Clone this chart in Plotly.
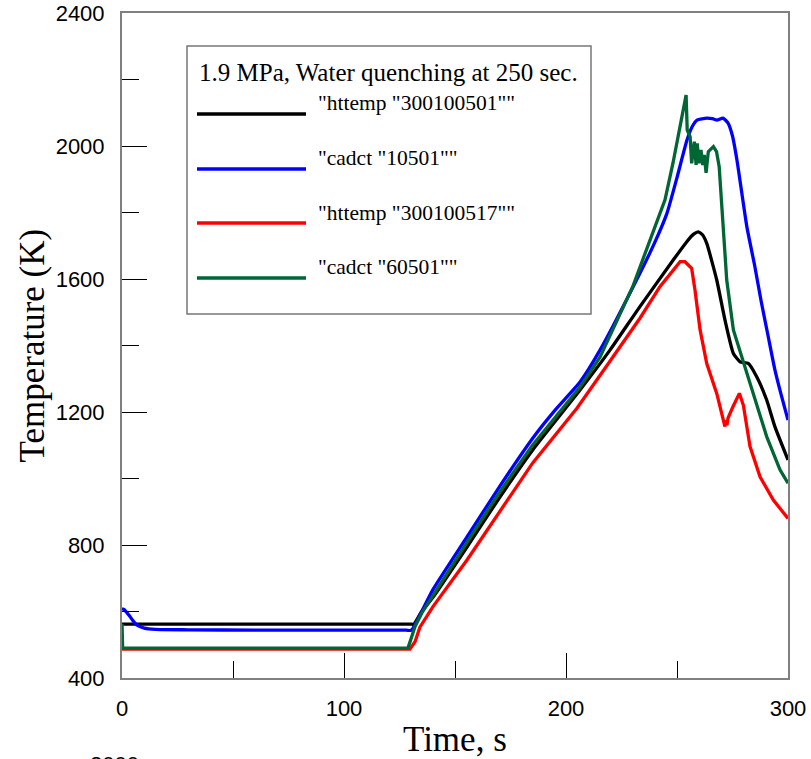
import plotly.graph_objects as go

# ---------------- data ----------------
legend_title = "1.9 MPa, Water quenching at 250 sec."
series_names = ['"httemp "300100501""', '"cadct "10501""', '"httemp "300100517""', '"cadct "60501""']
series_colors = ["#000000", "#0000FF", "#FF0000", "#006633"]

t_black = [0, 60, 130, 131.5, 135, 140, 155.4, 170, 185, 206.3, 219.8, 233.3, 248.3, 254.5,
           257.5, 259.6, 261.5, 263.4, 267.9, 271.6, 275.4, 278.4, 282.1, 285.9, 290.4, 294.1, 300]
T_black = [562, 562, 562, 562, 600, 642, 794, 942, 1086, 1266, 1386, 1517, 1657, 1713,
           1735, 1742, 1733, 1707, 1597, 1477, 1376, 1351, 1346, 1306, 1236, 1156, 1056]

t_blue = [0, 1, 3, 5, 7, 10, 15, 30, 60, 100, 128, 130, 131.1, 135, 140, 155.4, 170, 185.1, 195,
          206.3, 215.3, 230.2, 240, 245.5, 250, 254.5, 257, 259, 263.5, 266, 268, 270.7, 273,
          275, 277, 281.5, 285, 288, 291, 294, 297, 300]
T_blue = [608, 606, 590, 572, 558, 550, 546, 545, 544, 544, 544, 543, 550, 600, 665, 824, 975, 1122, 1205,
          1290, 1386, 1576, 1710, 1798, 1905, 2018, 2060, 2078, 2084, 2082, 2078, 2084, 2069,
          2030, 1958, 1756, 1640, 1530, 1430, 1330, 1250, 1176]

t_red = [0, 60, 129.7, 132, 134.2, 140, 155.4, 185, 205, 219, 233.3, 242.3, 251.4, 253.6, 256.6,
         258.1, 260.4, 263.4, 267.9, 271.6, 272, 272.5, 273, 275.2, 278.1, 279.9, 281.4, 282.9,
         287.4, 293.4, 300]
T_red = [487, 487, 487, 509, 553, 614, 755, 1047, 1212, 1345, 1482, 1577, 1652, 1652, 1632,
         1567, 1447, 1346, 1256, 1156, 1175, 1160, 1182, 1216, 1256, 1220, 1150, 1096,
         1005, 935, 880]

t_green = [0, 0.3, 10, 60, 128.8, 130.5, 132, 135, 140, 155.4, 170, 185, 206.3, 215.3, 230, 238,
           244.6, 248.2, 252.2, 254.1, 254.6, 255.9, 256.6, 257.8, 258.6, 259.1, 259.9, 260.8,
           261.6, 262.3, 263.1, 264.1, 266.4, 267.8, 269.0, 269.4, 270.9, 272.4, 275.4, 279.9,
           282.9, 285.9, 290.4, 296.4, 300]
T_green = [563, 490, 490, 490, 490, 524, 555, 595, 648, 808, 958, 1101, 1275, 1365, 1576, 1720,
           1838, 1949, 2087, 2153, 2048, 2028, 1948, 2013, 1943, 2008, 1948, 1988,
           1943, 1973, 1919, 1983, 1998, 1983, 1938, 1898, 1747, 1597, 1447, 1350,
           1290, 1220, 1126, 1026, 986]

x_ticks = [0, 100, 200, 300]
y_ticks = [400, 800, 1200, 1600, 2000, 2400]

# ---------------- figure ----------------
W, H = 811, 759
L, R, T, B = 122, 23, 13, 81
pw, ph = W - L - R, H - T - B

def px(x):
    return (x - L) / pw

def py(y):
    return (H - B - y) / ph

fig = go.Figure()
series = [(t_black, T_black), (t_blue, T_blue), (t_red, T_red), (t_green, T_green)]
shapes_line = ["spline", "spline", "linear", "linear"]
for (tx, ty), name, col, shp in zip(series, series_names, series_colors, shapes_line):
    fig.add_trace(go.Scatter(x=tx, y=ty, mode="lines", name=name,
                             line=dict(color=col, width=3.3, shape=shp, smoothing=0.5),
                             showlegend=False))

sans = "Liberation Sans, Arial, sans-serif"
serif = "Liberation Serif, Times New Roman, serif"

axis_common = dict(showgrid=False, zeroline=False, showline=True, linecolor="#808080",
                   linewidth=2, mirror=True, ticks="inside", ticklen=25, tickwidth=1,
                   tickcolor="#000000", automargin=False,
                   tickfont=dict(family=sans, size=22, color="#000"))
fig.update_xaxes(range=[0, 300], tickvals=x_ticks, ticklabelstandoff=10,
                 minor=dict(ticks="inside", ticklen=17, tickwidth=1, tickcolor="#000", dtick=50, tick0=0),
                 **axis_common)
fig.update_yaxes(range=[400, 2400], tickvals=y_ticks, ticklabelstandoff=11,
                 minor=dict(ticks="inside", ticklen=17, tickwidth=1, tickcolor="#000", dtick=200, tick0=400),
                 **axis_common)

shapes = [dict(type="rect", xref="paper", yref="paper", x0=px(187), x1=px(591), y0=py(314), y1=py(46),
               line=dict(color="#777777", width=1.5), fillcolor="white", layer="below")]
annotations = [
    dict(text="Temperature (K)", xref="paper", yref="paper", x=px(32), y=0.5, textangle=-90,
         showarrow=False, font=dict(family=serif, size=35, color="#000"), xanchor="center", yanchor="middle"),
    dict(text="Time, s", xref="paper", yref="paper", x=0.5, y=py(739), showarrow=False,
         font=dict(family=serif, size=35, color="#000"), xanchor="center", yanchor="middle"),
    dict(text=legend_title, xref="paper", yref="paper", x=px(388.5), y=py(72), showarrow=False,
         font=dict(family=serif, size=25, color="#000"), xanchor="center", yanchor="middle"),
    dict(text="2000", xref="paper", yref="paper", x=px(114), y=py(750), showarrow=False,
         font=dict(family=sans, size=22, color="#000"), xanchor="center", yanchor="top"),
]
text_y = [103, 158, 213, 267]
line_y = [114, 169, 223, 278]
for name, col, ty, ly in zip(series_names, series_colors, text_y, line_y):
    annotations.append(dict(text=name, xref="paper", yref="paper", x=px(316), y=py(ty), showarrow=False,
                            font=dict(family=serif, size=21.5, color="#000"), xanchor="left", yanchor="middle"))
    shapes.append(dict(type="line", xref="paper", yref="paper", x0=px(197), x1=px(306), y0=py(ly), y1=py(ly),
                       line=dict(color=col, width=3.5)))

fig.update_layout(width=W, height=H, margin=dict(l=L, r=R, t=T, b=B, pad=0),
                  plot_bgcolor="white", paper_bgcolor="white", showlegend=False,
                  shapes=shapes, annotations=annotations)

fig.write_html("out.html", config={"displayModeBar": False},
               post_script="document.body.style.margin='0px';document.body.style.overflow='hidden';")
